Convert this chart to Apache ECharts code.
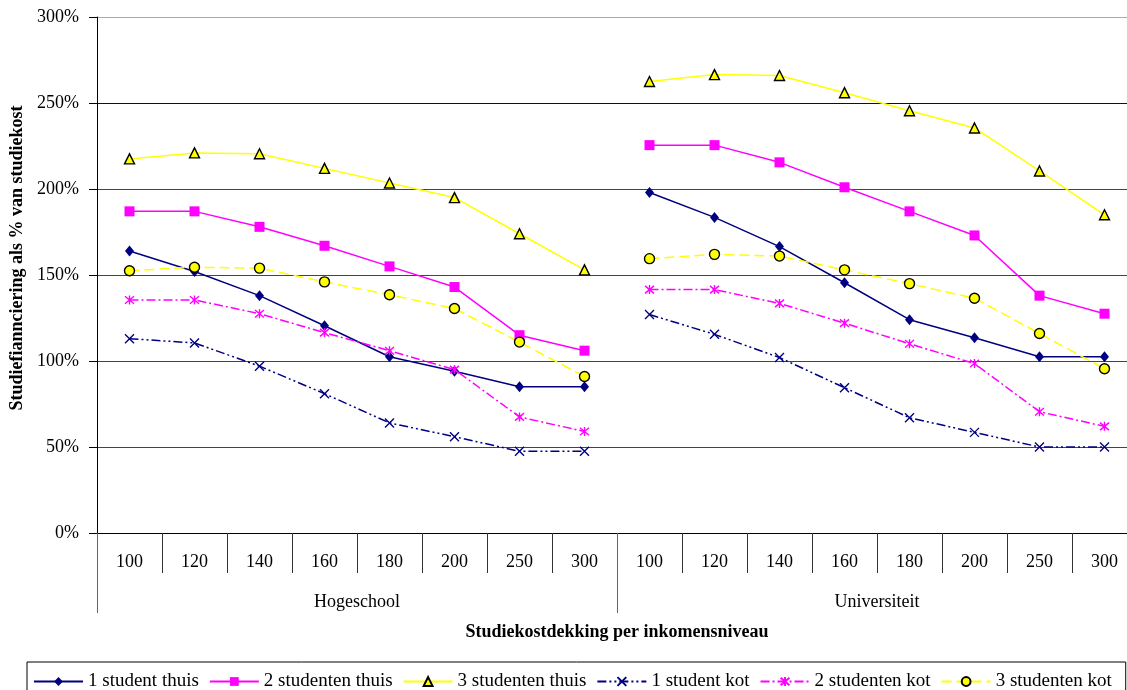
<!DOCTYPE html>
<html>
<head>
<meta charset="utf-8">
<script src="https://cdn.jsdelivr.net/npm/echarts@6/dist/echarts.min.js"></script>
<style>
html,body{margin:0;padding:0;background:#fff;overflow:hidden;width:1127px;height:690px;}
#chart{width:1137px;height:690px;}
</style>
</head>
<body>
<div id="chart"></div>
<script>
// ---- Data ----
const categories = ['100','120','140','160','180','200','250','300'];
const groups = ['Hogeschool','Universiteit'];
const seriesNames = ['1 student thuis','2 studenten thuis','3 studenten thuis','1 student kot','2 studenten kot','3 studenten kot'];
const yTicks = [0, 50, 100, 150, 200, 250, 300];

// Hogeschool
const thuis1H = [164, 152, 138, 120.5, 102.5, 94, 85, 85];
const thuis2H = [187, 187, 178, 167, 155, 143, 115, 106];
const thuis3H = [217.5, 221, 220.5, 212, 203.5, 195, 174, 153];
const kot1H   = [113, 110.5, 97, 81, 64, 56, 47.5, 47.5];
const kot2H   = [135.5, 135.5, 127.5, 116.5, 106, 95, 67.5, 59];
const kot3H   = [152.5, 154.5, 154, 146, 138.5, 130.5, 111, 91];
// Universiteit
const thuis1U = [198, 183.5, 166.5, 145.5, 124, 113.5, 102.5, 102.5];
const thuis2U = [225.5, 225.5, 215.5, 201, 187, 173, 138, 127.5];
const thuis3U = [262.5, 266.5, 266, 256, 245.5, 235.5, 210.5, 185];
const kot1U   = [127, 115.5, 102, 84.5, 67, 58.5, 50, 50];
const kot2U   = [141.5, 141.5, 133.5, 122, 110, 98.5, 70.5, 62];
const kot3U   = [159.5, 162, 161, 153, 145, 136.5, 116, 95.5];

// ---- Styles ----
const FONT = 'Liberation Serif';
const NAVY = '#000080', MAG = '#FF00FF', YEL = '#FFFF00';
const X_PATH = 'path://M0,0L10,10M10,0L0,10';
const STAR_PATH = 'path://M0,0L10,10M10,0L0,10M5,-1L5,11';

const styles = [
  {color: NAVY, type: 'solid', symbol: 'diamond', size: [9,11], item: {color: NAVY}},
  {color: MAG, type: 'solid', symbol: 'rect', size: 10, item: {color: MAG}},
  {color: YEL, type: 'solid', symbol: 'triangle', size: 10, item: {color: YEL, borderColor: '#000', borderWidth: 1.4}},
  {color: NAVY, type: [9,3,2,3,2,3], symbol: X_PATH, size: 9, item: {color: 'none', borderColor: NAVY, borderWidth: 1.4}},
  {color: MAG, type: [9,3,2,3], symbol: STAR_PATH, size: 9, item: {color: 'none', borderColor: MAG, borderWidth: 1.4}},
  {color: YEL, type: [10,5], symbol: 'circle', size: 10, item: {color: YEL, borderColor: '#000', borderWidth: 1.4}}
];

const hData = [thuis1H, thuis2H, thuis3H, kot1H, kot2H, kot3H];
const uData = [thuis1U, thuis2U, thuis3U, kot1U, kot2U, kot3U];

const xCats = categories.concat(categories);

function mkSeries(name, vals, offset, st) {
  return {
    name: name,
    type: 'line',
    xAxisIndex: 0,
    data: vals.map((v, i) => [i + offset, v]),
    symbol: st.symbol,
    symbolSize: st.size,
    showAllSymbol: true,
    lineStyle: {color: st.color, width: 1.5, type: st.type},
    itemStyle: Object.assign({}, st.item),
    emphasis: {disabled: true},
    z: 3
  };
}

const series = [];
seriesNames.forEach((n, k) => {
  series.push(mkSeries(n, hData[k], 0, styles[k]));
  series.push(mkSeries(n, uData[k], categories.length, styles[k]));
});

const chart = echarts.init(document.getElementById('chart'), null, {renderer: 'canvas'});
chart.setOption({
  animation: false,
  backgroundColor: '#fff',
  grid: {left: 97, top: 17, right: 0, bottom: 157, containLabel: false},
  legend: {
    data: seriesNames,
    left: 27, top: 662,
    padding: [10, 14, 12, 6],
    itemGap: 10,
    itemWidth: 49, itemHeight: 11,
    borderColor: '#000', borderWidth: 1,
    textStyle: {fontFamily: FONT, fontSize: 19, color: '#000'},
    selectedMode: false
  },
  xAxis: [
    {
      type: 'category',
      data: xCats,
      position: 'bottom',
      boundaryGap: true,
      axisLine: {show: true, lineStyle: {color: '#000', width: 1}},
      axisTick: {show: true, length: 40, interval: 0, lineStyle: {color: '#333'}},
      axisLabel: {interval: 0, margin: 20, fontFamily: FONT, fontSize: 18, color: '#000'},
      splitLine: {show: false},
      name: 'Studiekostdekking per inkomensniveau',
      nameLocation: 'middle',
      nameGap: 90,
      nameTextStyle: {fontFamily: FONT, fontSize: 18, fontWeight: 'bold', color: '#000'}
    },
    {
      type: 'category',
      data: groups,
      position: 'bottom',
      boundaryGap: true,
      axisLine: {show: false},
      axisTick: {show: true, length: 80, interval: 0, lineStyle: {color: '#666'}},
      axisLabel: {interval: 0, margin: 60, fontFamily: FONT, fontSize: 18, color: '#000'},
      splitLine: {show: false}
    }
  ],
  yAxis: {
    type: 'value',
    min: 0, max: 300, interval: 50,
    axisLine: {show: true, lineStyle: {color: '#000', width: 1}},
    axisTick: {show: true, length: 8, inside: false, lineStyle: {color: '#000'}},
    axisLabel: {margin: 18, fontFamily: FONT, fontSize: 18, color: '#000', formatter: '{value}%'},
    splitLine: {show: true, lineStyle: {color: ['#000', '#444', '#444', '#444', '#444', '#111', '#aaa'], width: 1}},
    name: 'Studiefiannciering als % van studiekost',
    nameLocation: 'middle',
    nameGap: 70,
    nameTextStyle: {fontFamily: FONT, fontSize: 18, fontWeight: 'bold', color: '#000', padding: [0, 0, 0, 34]}
  },
  series: series
});
</script>
</body>
</html>
